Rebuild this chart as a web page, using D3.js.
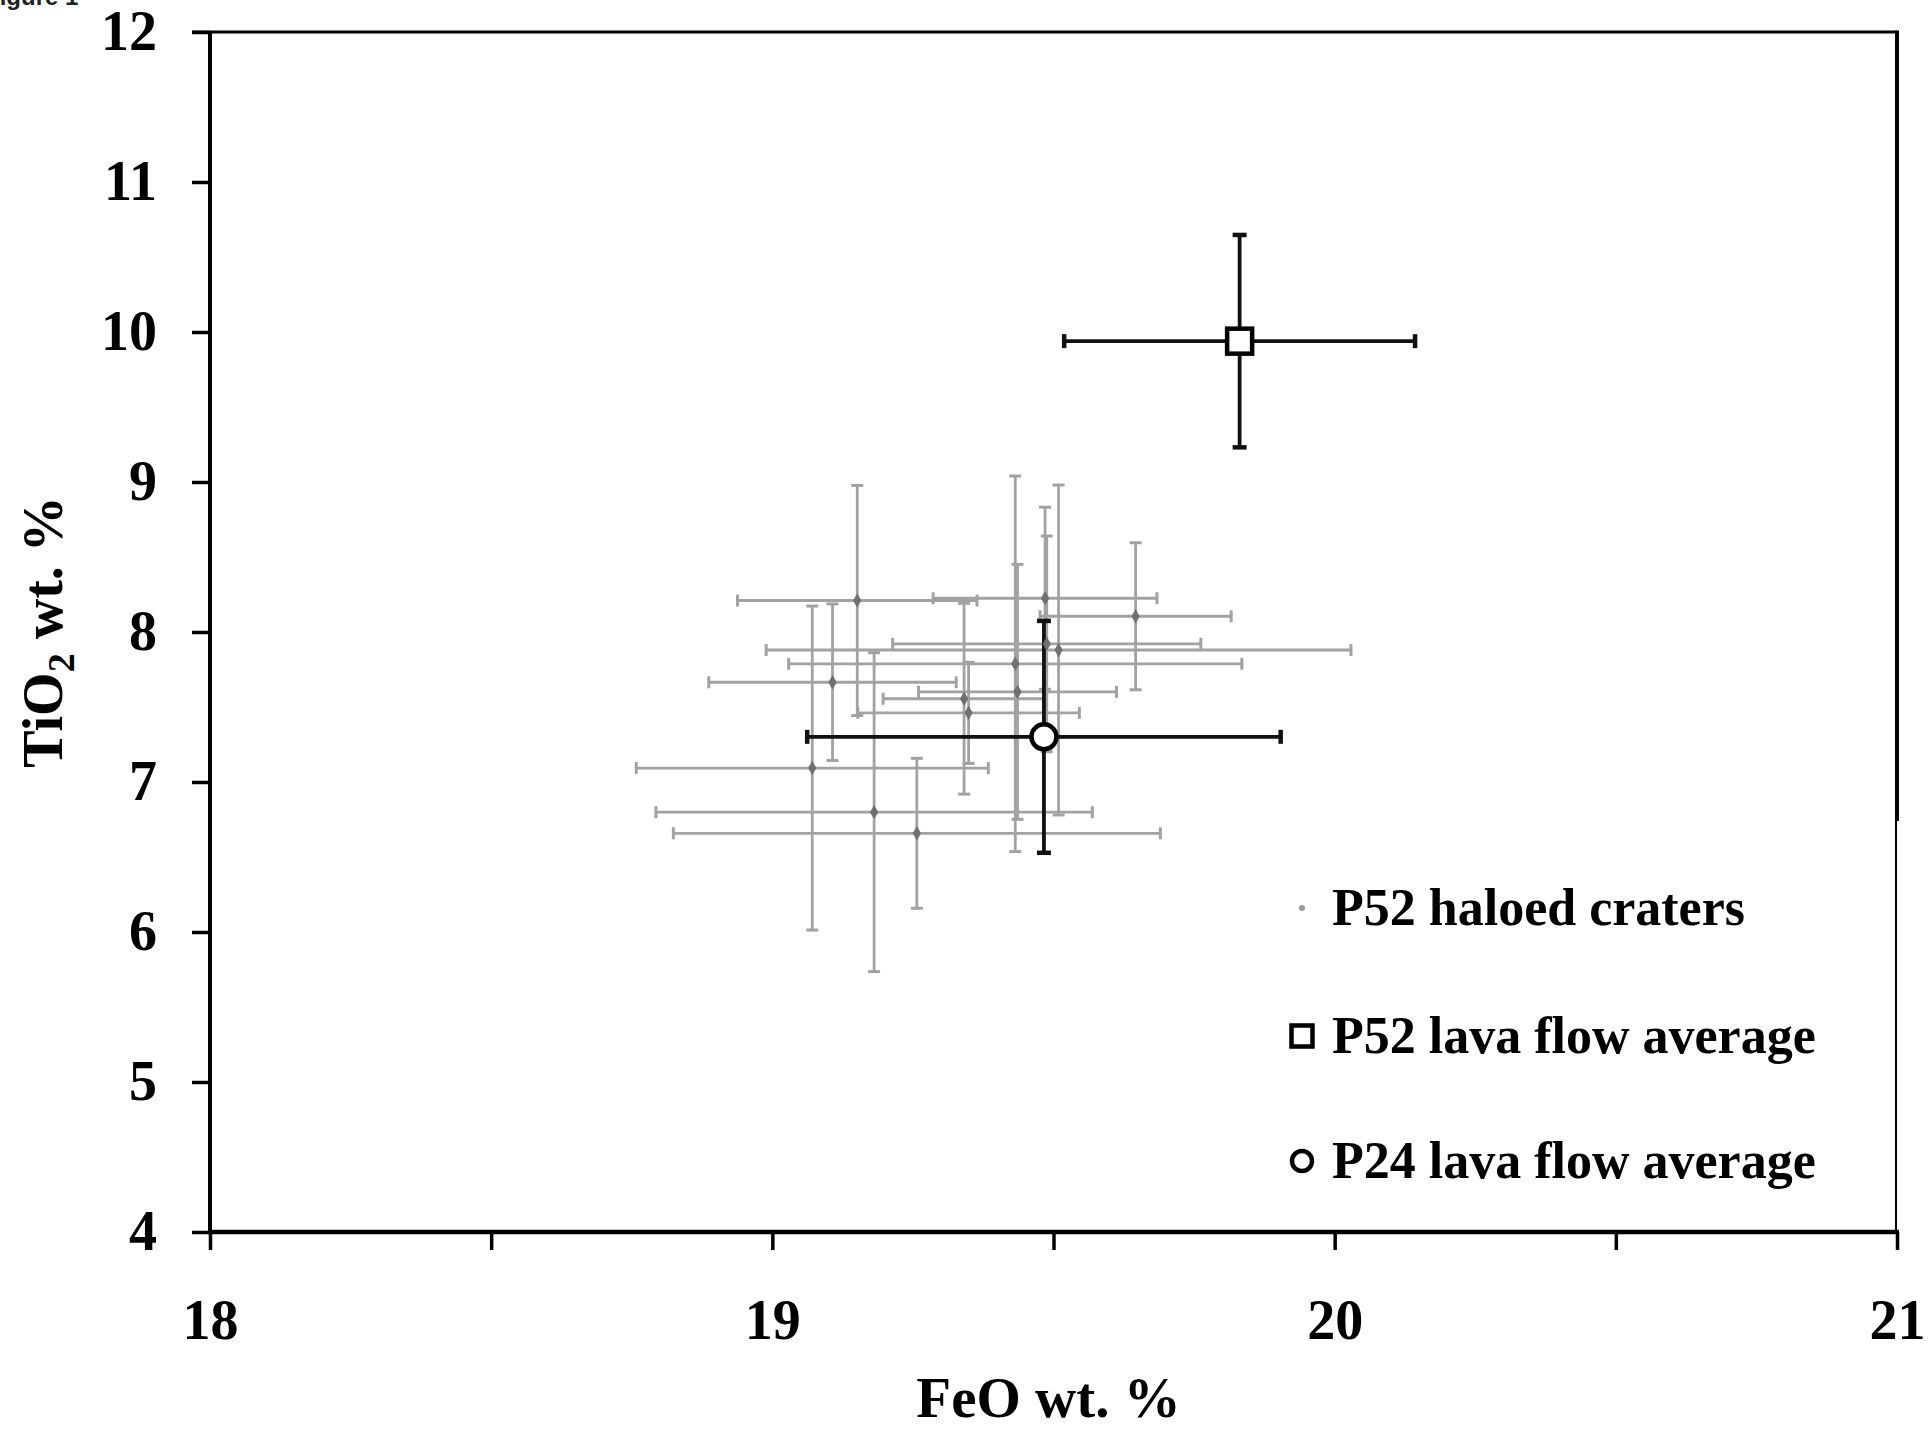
<!DOCTYPE html>
<html>
<head>
<meta charset="utf-8">
<script src="https://cdn.jsdelivr.net/npm/d3@7"></script>
<style>
  html, body { margin: 0; padding: 0; background: #fff; }
  svg { display: block; }
</style>
</head>
<body>
<svg id="chart" width="1929" height="1430"></svg>
<script>
// P52 haloed craters: FeO and TiO2 (wt. %) with their uncertainties
const craterFeO     = [19.151, 19.071, 19.107, 19.181, 19.257, 19.509, 19.485, 19.432, 19.436, 19.341, 19.646, 19.488, 19.349];
const craterFeOErr  = [0.213, 0.313, 0.220, 0.388, 0.433, 0.520, 0.199, 0.403, 0.176, 0.144, 0.170, 0.274, 0.197];
const craterTiO2    = [8.210, 7.093, 7.665, 6.799, 6.658, 7.880, 8.225, 7.788, 7.601, 7.555, 8.105, 7.921, 7.461];
const craterTiO2Err = [0.767, 1.080, 0.522, 1.063, 0.500, 1.100, 0.607, 1.252, 0.850, 0.636, 0.490, 0.719, 0.337];

// Lava flow averages
const flowNames   = ["P52 lava flow average", "P24 lava flow average"];
const flowSymbols = ["square", "circle"];
const flowFeO     = [19.831, 19.483];
const flowFeOErr  = [0.312, 0.421];
const flowTiO2    = [9.939, 7.301];
const flowTiO2Err = [0.708, 0.773];

// Axes
const xTicks = [18, 18.5, 19, 19.5, 20, 20.5, 21];
const yTicks = [4, 5, 6, 7, 8, 9, 10, 11, 12];
const xTitle = "FeO wt. %";
const legendLabels = ["P52 haloed craters", "P52 lava flow average", "P24 lava flow average"];

const serif = "'Liberation Serif', 'Times New Roman', serif";
const svg = d3.select("#chart");

const x = d3.scaleLinear().domain([18, 21]).range([210, 1897]);
const y = d3.scaleLinear().domain([4, 12]).range([1232, 32]);

// Figure caption, partly cut by the top edge
svg.append("text")
  .attr("x", -15).attr("y", 5)
  .attr("font-family", "'Liberation Sans', Arial, sans-serif")
  .attr("font-weight", "bold").attr("font-size", 24)
  .attr("fill", "#222")
  .text("Figure 1");

// ---- axes ----
const xAxis = svg.append("g")
  .attr("transform", `translate(0,${y(4)})`)
  .call(d3.axisBottom(x).tickValues(xTicks).tickSize(18).tickPadding(49)
    .tickFormat(d => Number.isInteger(d) ? d : ""));
const yAxis = svg.append("g")
  .attr("transform", `translate(${x(18)},0)`)
  .call(d3.axisLeft(y).tickValues(yTicks).tickSize(18).tickPadding(35));

[xAxis, yAxis].forEach(g => {
  g.select(".domain").remove();
  g.selectAll(".tick line").attr("stroke", "#000").attr("stroke-width", 3.5);
  g.selectAll(".tick text")
    .attr("font-family", serif).attr("font-weight", "bold")
    .attr("font-size", 56).attr("fill", "#000");
});

// plot frame
const frame = svg.append("g").attr("stroke", "#000").attr("fill", "none");
frame.append("line").attr("x1", x(18) - 18).attr("x2", x(21)).attr("y1", y(12)).attr("y2", y(12)).attr("stroke-width", 3);
frame.append("line").attr("x1", x(18)).attr("x2", x(18)).attr("y1", y(12)).attr("y2", y(4) + 2).attr("stroke-width", 4);
frame.append("line").attr("x1", x(18) - 2).attr("x2", x(21) + 2).attr("y1", y(4)).attr("y2", y(4)).attr("stroke-width", 4.5);
frame.append("line").attr("x1", x(21)).attr("x2", x(21)).attr("y1", y(12) - 1.5).attr("y2", y(6.74)).attr("stroke-width", 4);
frame.append("line").attr("x1", x(21) - 1).attr("x2", x(21) - 1).attr("y1", y(6.74)).attr("y2", y(4)).attr("stroke-width", 2);

// axis titles
svg.append("text")
  .attr("x", (x(18) + x(21)) / 2 - 5).attr("y", 1417)
  .attr("text-anchor", "middle")
  .attr("font-family", serif).attr("font-weight", "bold").attr("font-size", 57)
  .text(xTitle);

const yTitle = svg.append("text")
  .attr("transform", `translate(62,${(y(4) + y(12)) / 2}) rotate(-90)`)
  .attr("text-anchor", "middle")
  .attr("font-family", serif).attr("font-weight", "bold").attr("font-size", 56);
yTitle.append("tspan").text("TiO");
yTitle.append("tspan").attr("font-size", 38).attr("dy", 12).text("2");
yTitle.append("tspan").attr("dy", -12).text(" wt. %");

// ---- error bars ----
function errorBars(g, cx, cy, ex, ey, color, width, cap, capWidth) {
  g.append("line").attr("x1", x(cx - ex)).attr("x2", x(cx + ex)).attr("y1", y(cy)).attr("y2", y(cy))
    .attr("stroke", color).attr("stroke-width", width);
  g.append("line").attr("x1", x(cx)).attr("x2", x(cx)).attr("y1", y(cy - ey)).attr("y2", y(cy + ey))
    .attr("stroke", color).attr("stroke-width", width);
  [cx - ex, cx + ex].forEach(v => g.append("line")
    .attr("x1", x(v)).attr("x2", x(v)).attr("y1", y(cy) - cap / 2).attr("y2", y(cy) + cap / 2)
    .attr("stroke", color).attr("stroke-width", capWidth));
  [cy - ey, cy + ey].forEach(v => g.append("line")
    .attr("x1", x(cx) - cap / 2).attr("x2", x(cx) + cap / 2).attr("y1", y(v)).attr("y2", y(v))
    .attr("stroke", color).attr("stroke-width", capWidth));
}

const craterBars = svg.append("g");
craterFeO.forEach((fe, i) =>
  errorBars(craterBars, fe, craterTiO2[i], craterFeOErr[i], craterTiO2Err[i], "#a2a2a2", 2.8, 12, 3));

const flowBars = svg.append("g");
flowFeO.forEach((fe, i) =>
  errorBars(flowBars, fe, flowTiO2[i], flowFeOErr[i], flowTiO2Err[i], "#111", 3.8, 14, 4.5));

// ---- markers ----
svg.append("g").selectAll("path")
  .data(craterFeO)
  .join("path")
  .attr("d", d3.symbol(d3.symbolDiamond, 60)())
  .attr("transform", (d, i) => `translate(${x(d)},${y(craterTiO2[i])})`)
  .attr("fill", "#707070");

function drawSymbol(g, kind, px, py, size) {
  if (kind === "square") {
    g.append("rect").attr("x", px - size / 2).attr("y", py - size / 2)
      .attr("width", size).attr("height", size)
      .attr("fill", "#fff").attr("stroke", "#000").attr("stroke-width", 4.5);
  } else {
    g.append("circle").attr("cx", px).attr("cy", py).attr("r", size / 2)
      .attr("fill", "#fff").attr("stroke", "#000").attr("stroke-width", 4.5);
  }
}

const flowMarks = svg.append("g");
flowFeO.forEach((fe, i) => drawSymbol(flowMarks, flowSymbols[i], x(fe), y(flowTiO2[i]), 25));

// ---- legend ----
const legend = svg.append("g");
const legendY = [908, 1036, 1161];
const legendSymbolX = 1302;
legend.append("circle").attr("cx", legendSymbolX).attr("cy", legendY[0]).attr("r", 3).attr("fill", "#999");
drawSymbol(legend, "square", legendSymbolX, legendY[1], 21);
drawSymbol(legend, "circle", legendSymbolX, legendY[2], 20);
legend.selectAll("text")
  .data(legendLabels)
  .join("text")
  .attr("x", 1332)
  .attr("y", (d, i) => legendY[i] + 17)
  .attr("font-family", serif).attr("font-weight", "bold").attr("font-size", 52)
  .text(d => d);
</script>
</body>
</html>
